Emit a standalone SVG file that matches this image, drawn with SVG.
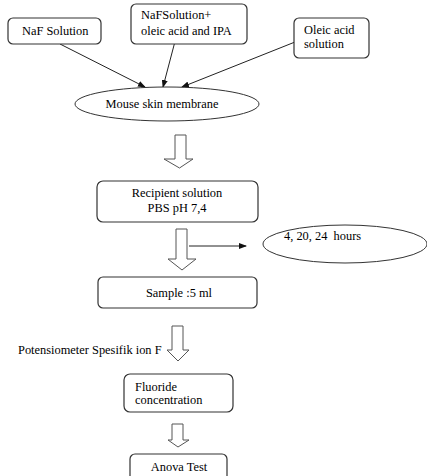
<svg xmlns="http://www.w3.org/2000/svg" width="427" height="476" viewBox="0 0 427 476">
<style>
text{font-family:'Liberation Serif','DejaVu Serif',serif;font-size:12.4px;fill:#000;white-space:pre}
.box{fill:#fff;stroke:#333;stroke-width:1.2}
.ell{fill:#fff;stroke:#333;stroke-width:1}
.blk{fill:#fff;stroke:#555;stroke-width:1}
.ln{stroke:#222;stroke-width:1;fill:none}
</style>
<defs>
<marker id="ah" markerWidth="8" markerHeight="6" refX="7" refY="3" orient="auto" markerUnits="userSpaceOnUse">
<path d="M0,0 L8,3 L0,6 z" fill="#111"/>
</marker>
</defs>
<rect width="427" height="476" fill="#fff"/>
<g id="connectors">
<line class="ln" x1="60" y1="44" x2="145" y2="87" marker-end="url(#ah)"/>
<line class="ln" x1="178" y1="30" x2="163" y2="87" marker-end="url(#ah)"/>
<line class="ln" x1="295" y1="42" x2="182" y2="87" marker-end="url(#ah)"/>
<path class="blk" d="M175,135 H186 V159 H193 L179.5,168 L164,159 H175 Z"/>
<path class="blk" d="M176,229 H187 V259 H196 L182,270 L168,259 H176 Z"/>
<line class="ln" x1="189" y1="246" x2="246" y2="246" marker-end="url(#ah)"/>
<path class="blk" d="M172,326 H183 V350 H189 L178,361 L167,350 H172 Z"/>
<path class="blk" d="M172,424 H183 V440 H189 L178,447 L168,440 H172 Z"/>
</g>
<g id="naf">
<rect class="box" x="8" y="18" width="93" height="26" rx="5"/>
<text x="22" y="35">NaF Solution</text>
</g>
<g id="naf-oleic">
<rect class="box" x="131" y="4" width="116" height="40" rx="5"/>
<text x="141" y="19">NaFSolution+</text>
<text x="141" y="35">oleic acid and IPA</text>
</g>
<g id="oleic">
<rect class="box" x="294" y="18" width="75" height="40" rx="5"/>
<text x="304" y="34">Oleic acid</text>
<text x="304" y="48">solution</text>
</g>
<g id="membrane">
<ellipse class="ell" cx="167" cy="104" rx="92" ry="17"/>
<text x="162" y="108" text-anchor="middle">Mouse skin membrane</text>
</g>
<g id="recipient">
<rect class="box" x="97" y="181" width="161" height="41" rx="6"/>
<text x="177" y="197" text-anchor="middle">Recipient solution</text>
<text x="177" y="212" text-anchor="middle">PBS pH 7,4</text>
</g>
<g id="hours">
<ellipse class="ell" cx="345" cy="244" rx="82" ry="19"/>
<text x="284" y="240" xml:space="preserve">4, 20, 24  hours</text>
</g>
<g id="sample">
<rect class="box" x="98" y="277" width="159" height="31" rx="5"/>
<text x="179" y="297" text-anchor="middle">Sample :5 ml</text>
</g>
<g id="potensiometer">
<text x="18" y="354">Potensiometer Spesifik ion F</text>
</g>
<g id="fluoride">
<rect class="box" x="124" y="374" width="109" height="38" rx="6"/>
<text x="135" y="391">Fluoride</text>
<text x="135" y="404">concentration</text>
</g>
<g id="anova">
<rect class="box" x="130" y="454" width="97" height="30" rx="5"/>
<text x="179" y="471" text-anchor="middle">Anova Test</text>
</g>
</svg>
